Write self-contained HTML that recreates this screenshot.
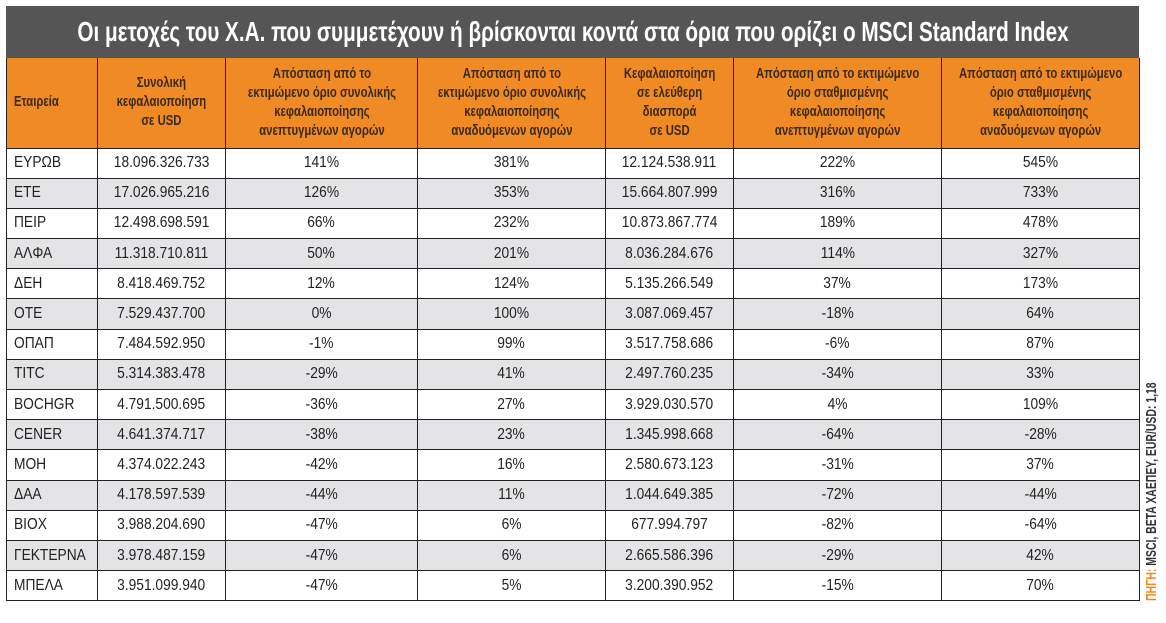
<!DOCTYPE html>
<html><head><meta charset="utf-8"><style>
*{margin:0;padding:0;box-sizing:border-box}
body{width:1166px;height:623px;background:#fff;position:relative;overflow:hidden;font-family:"Liberation Sans","DejaVu Sans",sans-serif}
#title{position:absolute;left:6px;top:6px;width:1133px;height:52px;background:#555;color:#fff;font-weight:bold;font-size:28px}
#title span{position:absolute;left:50%;top:10px;transform:translateX(-50%) scaleX(0.74);white-space:nowrap;line-height:32px}
table{position:absolute;left:6px;top:58px;width:1133px;border-collapse:collapse;table-layout:fixed}
td{border:1.5px solid #222;text-align:center;height:30.2px;font-size:16px;color:#222;white-space:nowrap;overflow:visible}
td span{display:inline-block;transform:scaleX(0.86)}
td:first-child{text-align:left;padding-left:7px}
td:first-child span{transform-origin:left}
tr.h td{background:#f08a24;height:90px;font-weight:bold;font-size:14.5px;line-height:19px;color:#3a2a1a;border-top:none}
tr.h td span{transform:scaleX(0.78);margin:0 -40px}
tr.h td:first-child span{margin:0}
tr:nth-child(odd):not(.h) td{background:#e4e4e6}
#src{position:absolute;left:1144px;top:601px;transform:rotate(-90deg);transform-origin:0 0;font-size:14.5px;font-weight:bold;white-space:nowrap;color:#333}
#src span{display:inline-block;transform:scaleX(0.72);transform-origin:left}
</style></head><body>
<div id="title"><span>Οι μετοχές του Χ.Α. που συμμετέχουν ή βρίσκονται κοντά στα όρια που ορίζει ο MSCI Standard Index</span></div>
<table>
<colgroup><col style="width:91px"><col style="width:128px"><col style="width:192px"><col style="width:188px"><col style="width:128px"><col style="width:208px"><col style="width:198px"></colgroup>
<tr class="h"><td><span>Εταιρεία</span></td><td><span>Συνολική<br>κεφαλαιοποίηση<br>σε USD</span></td><td><span>Απόσταση από το<br>εκτιμώμενο όριο συνολικής<br>κεφαλαιοποίησης<br>ανεπτυγμένων αγορών</span></td><td><span>Απόσταση από το<br>εκτιμώμενο όριο συνολικής<br>κεφαλαιοποίησης<br>αναδυόμενων αγορών</span></td><td><span>Κεφαλαιοποίηση<br>σε ελεύθερη<br>διασπορά<br>σε USD</span></td><td><span>Απόσταση από το εκτιμώμενο<br>όριο σταθμισμένης<br>κεφαλαιοποίησης<br>ανεπτυγμένων αγορών</span></td><td><span>Απόσταση από το εκτιμώμενο<br>όριο σταθμισμένης<br>κεφαλαιοποίησης<br>αναδυόμενων αγορών</span></td></tr>
<tr><td><span>ΕΥΡΩΒ</span></td><td><span>18.096.326.733</span></td><td><span>141%</span></td><td><span>381%</span></td><td><span>12.124.538.911</span></td><td><span>222%</span></td><td><span>545%</span></td></tr>
<tr><td><span>ΕΤΕ</span></td><td><span>17.026.965.216</span></td><td><span>126%</span></td><td><span>353%</span></td><td><span>15.664.807.999</span></td><td><span>316%</span></td><td><span>733%</span></td></tr>
<tr><td><span>ΠΕΙΡ</span></td><td><span>12.498.698.591</span></td><td><span>66%</span></td><td><span>232%</span></td><td><span>10.873.867.774</span></td><td><span>189%</span></td><td><span>478%</span></td></tr>
<tr><td><span>ΑΛΦΑ</span></td><td><span>11.318.710.811</span></td><td><span>50%</span></td><td><span>201%</span></td><td><span>8.036.284.676</span></td><td><span>114%</span></td><td><span>327%</span></td></tr>
<tr><td><span>ΔΕΗ</span></td><td><span>8.418.469.752</span></td><td><span>12%</span></td><td><span>124%</span></td><td><span>5.135.266.549</span></td><td><span>37%</span></td><td><span>173%</span></td></tr>
<tr><td><span>ΟΤΕ</span></td><td><span>7.529.437.700</span></td><td><span>0%</span></td><td><span>100%</span></td><td><span>3.087.069.457</span></td><td><span>-18%</span></td><td><span>64%</span></td></tr>
<tr><td><span>ΟΠΑΠ</span></td><td><span>7.484.592.950</span></td><td><span>-1%</span></td><td><span>99%</span></td><td><span>3.517.758.686</span></td><td><span>-6%</span></td><td><span>87%</span></td></tr>
<tr><td><span>TITC</span></td><td><span>5.314.383.478</span></td><td><span>-29%</span></td><td><span>41%</span></td><td><span>2.497.760.235</span></td><td><span>-34%</span></td><td><span>33%</span></td></tr>
<tr><td><span>BOCHGR</span></td><td><span>4.791.500.695</span></td><td><span>-36%</span></td><td><span>27%</span></td><td><span>3.929.030.570</span></td><td><span>4%</span></td><td><span>109%</span></td></tr>
<tr><td><span>CENER</span></td><td><span>4.641.374.717</span></td><td><span>-38%</span></td><td><span>23%</span></td><td><span>1.345.998.668</span></td><td><span>-64%</span></td><td><span>-28%</span></td></tr>
<tr><td><span>ΜΟΗ</span></td><td><span>4.374.022.243</span></td><td><span>-42%</span></td><td><span>16%</span></td><td><span>2.580.673.123</span></td><td><span>-31%</span></td><td><span>37%</span></td></tr>
<tr><td><span>ΔΑΑ</span></td><td><span>4.178.597.539</span></td><td><span>-44%</span></td><td><span>11%</span></td><td><span>1.044.649.385</span></td><td><span>-72%</span></td><td><span>-44%</span></td></tr>
<tr><td><span>ΒΙΟΧ</span></td><td><span>3.988.204.690</span></td><td><span>-47%</span></td><td><span>6%</span></td><td><span>677.994.797</span></td><td><span>-82%</span></td><td><span>-64%</span></td></tr>
<tr><td><span>ΓΕΚΤΕΡΝΑ</span></td><td><span>3.978.487.159</span></td><td><span>-47%</span></td><td><span>6%</span></td><td><span>2.665.586.396</span></td><td><span>-29%</span></td><td><span>42%</span></td></tr>
<tr><td><span>ΜΠΕΛΑ</span></td><td><span>3.951.099.940</span></td><td><span>-47%</span></td><td><span>5%</span></td><td><span>3.200.390.952</span></td><td><span>-15%</span></td><td><span>70%</span></td></tr>
</table>
<div id="src"><span><b style="color:#f08a24">ΠΗΓΗ:</b> MSCI, BETA ΧΑΕΠΕΥ, EUR/USD: 1,18</span></div>
</body></html>
